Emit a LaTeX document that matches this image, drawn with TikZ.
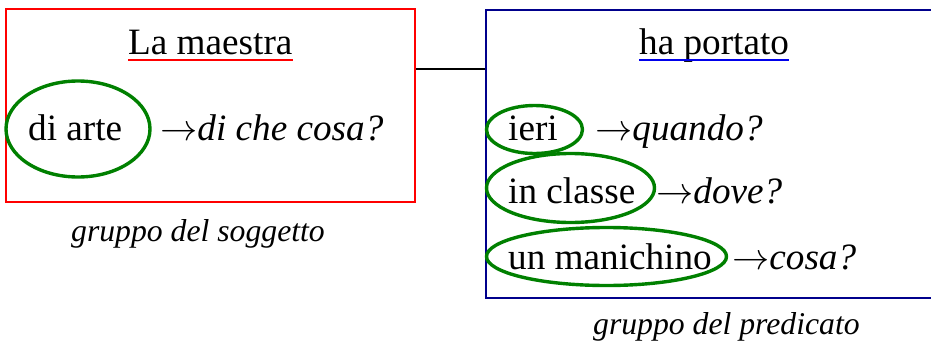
\documentclass[tikz,border=0pt]{standalone}
\usepackage{graphicx}
\usepackage{fontspec}
\setmainfont{Liberation Serif}
\usepackage{tikz}
\definecolor{subjred}{RGB}{255,0,0}
\definecolor{predblue}{RGB}{0,0,140}
\definecolor{ulblue}{RGB}{0,0,235}
\definecolor{ringgreen}{RGB}{0,128,0}
\newcommand{\qarrow}{\scalebox{3.72}{\fontsize{10pt}{12pt}\selectfont$\rightarrow$}}

\begin{document}
\begin{tikzpicture}[x=1pt,y=-1pt,
  word/.style={inner sep=0pt,anchor=base west,font=\fontsize{37.2pt}{40pt}\selectfont},
  caption/.style={inner sep=0pt,anchor=base west,font=\fontsize{31.7pt}{34pt}\selectfont\itshape},
  ring/.style={draw=ringgreen,line width=3.4pt},
  frame/.style={draw,line width=1.6pt,inner sep=0pt}]
\useasboundingbox (0,0) rectangle (931,345);
\clip (0,0) rectangle (931,345);
% boxes
\node[frame,draw=subjred,minimum width=409pt,minimum height=193pt] (subj) at (210.5,105.5) {};
\node[frame,draw=predblue,minimum width=474pt,minimum height=288pt] (pred) at (723,154) {};
\coordinate (link) at (450,69);
\draw[line width=1.3pt] (subj.east |- link) -- (pred.west |- link);
% subject group
\node[word] (maestra) at (128,55) {La maestra};
\draw[subjred,line width=1.5pt] ([yshift=-5pt]maestra.base west) -- ([yshift=-5pt]maestra.base east);
\node[word] (arte) at (28,140) {di arte};
\node[word] (qarte) at (160,140) {\qarrow\textit{di che cosa?}};
\draw[ring] (78,129) ellipse [x radius=72, y radius=48];
\node[caption] (capsubj) at (71,241) {gruppo del soggetto};
% predicate group
\node[word] (portato) at (639,55) {ha portato};
\draw[ulblue,line width=1.5pt] ([yshift=-5pt]portato.base west) -- ([yshift=-5pt]portato.base east);
\node[word] (ieri) at (508,140) {ieri};
\node[word] (qieri) at (595,140) {\qarrow\textit{quando?}};
\draw[ring] (534.5,129.5) ellipse [x radius=48, y radius=24];
\node[word] (classe) at (508,203) {in classe};
\node[word] (qclasse) at (656,203) {\qarrow\textit{dove?}};
\draw[ring] (570.5,188) ellipse [x radius=84, y radius=34.5];
\node[word] (manichino) at (508,269) {un manichino};
\node[word] (qmanichino) at (732,269) {\qarrow\textit{cosa?}};
\draw[ring] (606.5,256.5) ellipse [x radius=120, y radius=29];
\node[caption] (cappred) at (593,334) {gruppo del predicato};
\end{tikzpicture}
\end{document}
